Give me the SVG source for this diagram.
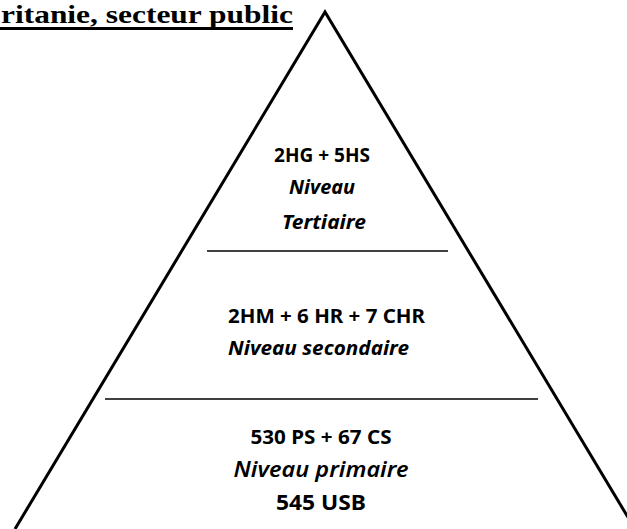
<svg xmlns="http://www.w3.org/2000/svg" width="627" height="529" viewBox="0 0 627 529">
<style>
.t{font-family:"Noto Sans","Open Sans",sans-serif;fill:#000}
.b{font-weight:bold}
.i{font-style:italic;font-weight:bold}
.edge{stroke:#000;fill:none}
</style>
<rect width="627" height="529" fill="#fff"/>
<g id="title">
<text x="293" y="23" text-anchor="end" font-family="'Liberation Serif','Times New Roman',serif" font-weight="bold" font-size="25" textLength="292" lengthAdjust="spacingAndGlyphs">ritanie, secteur public</text>
<rect x="0" y="27" width="293" height="3" fill="#000"/>
</g>
<g id="connectors">
<polyline class="edge" stroke-width="3" points="15,529 325,12 635,529"/>
<line class="edge" stroke-width="1.5" x1="207" y1="251" x2="448" y2="251"/>
<line class="edge" stroke-width="1.5" x1="105" y1="399" x2="538" y2="399"/>
</g>
<g id="tertiaire">
<text class="t b" x="322" y="162" text-anchor="middle" font-size="19" textLength="96" lengthAdjust="spacingAndGlyphs">2HG + 5HS</text>
<text class="t i" x="322" y="194" text-anchor="middle" font-size="19" textLength="66" lengthAdjust="spacingAndGlyphs">Niveau</text>
<text class="t i" x="324" y="229" text-anchor="middle" font-size="19" textLength="84" lengthAdjust="spacingAndGlyphs">Tertiaire</text>
</g>
<g id="secondaire">
<text class="t b" x="228" y="323" font-size="19" textLength="197" lengthAdjust="spacingAndGlyphs">2HM + 6 HR + 7 CHR</text>
<text class="t i" x="228" y="355" font-size="19" textLength="181" lengthAdjust="spacingAndGlyphs">Niveau secondaire</text>
</g>
<g id="primaire">
<text class="t b" x="321" y="444" text-anchor="middle" font-size="19" textLength="141" lengthAdjust="spacingAndGlyphs">530 PS + 67 CS</text>
<text class="t" x="321" y="477" text-anchor="middle" font-size="22" font-style="italic" font-weight="600" textLength="175" lengthAdjust="spacingAndGlyphs">Niveau primaire</text>
<text class="t b" x="321" y="510" text-anchor="middle" font-size="22" textLength="90" lengthAdjust="spacingAndGlyphs">545 USB</text>
</g>
</svg>
